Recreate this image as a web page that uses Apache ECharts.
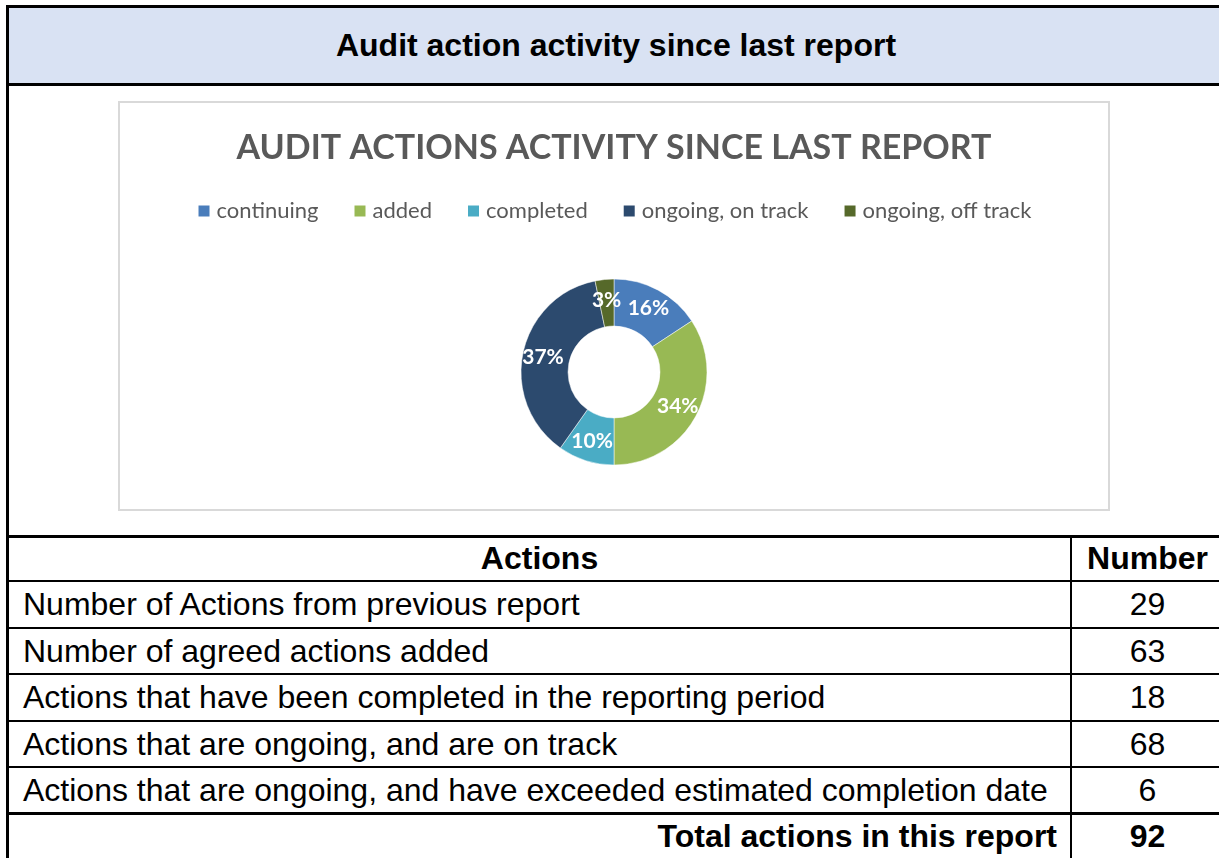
<!DOCTYPE html>
<html>
<head>
<meta charset="utf-8">
<script src="https://cdn.jsdelivr.net/npm/echarts@6/dist/echarts.min.js"></script>
<style>
  body { margin: 0; width: 1219px; height: 858px; overflow: hidden; background: #fff; font-family: "Liberation Sans", Arial, sans-serif; position: relative; }
  .abs { position: absolute; }
  .line { position: absolute; background: #000; }
  #head { left: 9px; top: 8px; width: 1214px; height: 75px; background: #D9E2F3; font-weight: bold; font-size: 32px; line-height: 75px; text-align: center; color: #000; }
  #box { left: 118px; top: 101px; width: 992px; height: 410px; border: 2px solid #D9D9D9; box-sizing: border-box; }
  #pie { width: 988px; height: 406px; }
  .cell { position: absolute; font-size: 32px; color: #000; white-space: nowrap; }
</style>
</head>
<body>
<div class="line" style="left:6px;top:5px;width:1300px;height:3px"></div>
<div class="line" style="left:6px;top:5px;width:3px;height:900px"></div>
<div id="head" class="abs">Audit action activity since last report</div>
<div class="line" style="left:6px;top:83px;width:1300px;height:3px"></div>
<div id="box" class="abs"><div id="pie"></div></div>
<div id="table"></div>

<script>
  // chart data
  const categories = ['continuing', 'added', 'completed', 'ongoing, on track', 'ongoing, off track'];
  const counts = [29, 63, 18, 68, 6];
  const colors = ['#4A7DBB', '#98B954', '#4AACC5', '#2C4A6E', '#56692A'];

  // table data
  const rowLabels = [
    'Number of Actions from previous report',
    'Number of agreed actions added',
    'Actions that have been completed in the reporting period',
    'Actions that are ongoing, and are on track',
    'Actions that are ongoing, and have exceeded estimated completion date'
  ];
  const rowValues = [29, 63, 18, 68, 6];
  const totalLabel = 'Total actions in this report';
  const totalValue = 92;

  // build table
  let table = document.getElementById('table');
  let html = '';
  const lineY = [535, 580, 627, 673, 720, 766, 812];
  lineY.forEach((y, i) => {
    let h = (i === 0 || i === lineY.length - 1) ? 3 : 2;
    html += '<div class="line" style="left:6px;top:' + y + 'px;width:1300px;height:' + h + 'px"></div>';
  });
  html += '<div class="line" style="left:1070px;top:535px;width:2px;height:330px"></div>';
  html += '<div class="cell" style="left:9px;width:1061px;top:537px;line-height:43px;text-align:center;font-weight:bold">Actions</div>';
  html += '<div class="cell" style="left:1072px;width:151px;top:537px;line-height:43px;text-align:center;font-weight:bold">Number</div>';
  rowLabels.forEach((label, i) => {
    let top = lineY[i + 1] + 2;
    let h = lineY[i + 2] - top;
    html += '<div class="cell" style="left:23px;top:' + top + 'px;line-height:' + h + 'px">' + label + '</div>';
    html += '<div class="cell" style="left:1072px;width:151px;top:' + top + 'px;line-height:' + h + 'px;text-align:center">' + rowValues[i] + '</div>';
  });
  html += '<div class="cell" style="left:9px;width:1048px;top:815px;line-height:43px;text-align:right;font-weight:bold">' + totalLabel + '</div>';
  html += '<div class="cell" style="left:1072px;width:151px;top:815px;line-height:43px;text-align:center;font-weight:bold">' + totalValue + '</div>';
  table.innerHTML = html;

  // pie chart
  let pieChart = echarts.init(document.getElementById('pie'));
  const option = {
    animation: false,
    color: colors,
    title: {
      text: 'AUDIT ACTIONS ACTIVITY SINCE LAST REPORT',
      left: 'center',
      top: 27,
      padding: 0,
      textStyle: {
        fontFamily: 'Lato',
        fontSize: 34,
        fontWeight: 'bold',
        color: '#595959',
        lineHeight: 36
      }
    },
    legend: {
      top: 97,
      left: 'center',
      padding: 0,
      itemWidth: 13,
      itemHeight: 13,
      itemGap: 34,
      icon: 'rect',
      textStyle: {
        fontFamily: 'Lato',
        fontSize: 22,
        color: '#595959',
        padding: [0, 0, 0, 1]
      },
      data: categories
    },
    series: [
      {
        name: 'actions',
        type: 'pie',
        center: ['50%', 269],
        radius: [46, 93],
        startAngle: 90,
        clockwise: true,
        itemStyle: {
          borderColor: '#fff',
          borderWidth: 0.5
        },
        label: {
          position: 'inside',
          color: '#fff',
          fontFamily: 'Lato',
          fontWeight: 'bold',
          fontSize: 21,
          formatter: p => Math.round(p.percent) + '%'
        },
        labelLine: { show: false },
        data: categories.map((name, i) => ({ name: name, value: counts[i] }))
      }
    ]
  };
  pieChart.setOption(option);
</script>
</body>
</html>
